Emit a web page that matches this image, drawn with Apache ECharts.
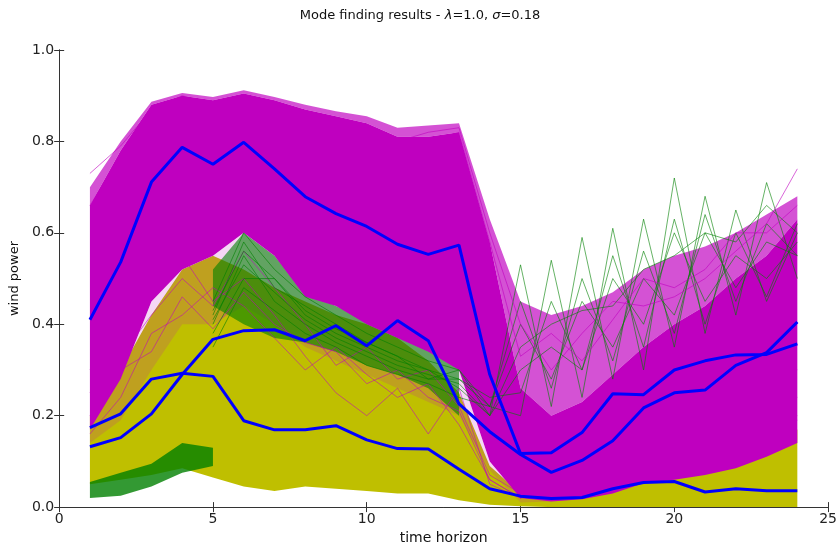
<!DOCTYPE html>
<html>
<head>
<meta charset="utf-8">
<script src="https://cdn.jsdelivr.net/npm/echarts@6/dist/echarts.min.js"></script>
<style>html,body{margin:0;padding:0;background:#fff}#c{width:840px;height:550px}</style>
</head>
<body>
<div id="c"></div>
<script>
// time steps
const hours = [1,2,3,4,5,6,7,8,9,10,11,12,13,14,15,16,17,18,19,20,21,22,23,24];
const xTicks = [0,5,10,15,20,25];
const yTicks = [0.0,0.2,0.4,0.6,0.8,1.0];

// cluster means (blue)
const meanMagenta = [0.41,0.536,0.711,0.787,0.75,0.798,0.74,0.679,0.642,0.614,0.575,0.553,0.573,0.29,0.117,0.119,0.163,0.248,0.246,0.30,0.32,0.333,0.334,0.357];
const meanGreen   = [0.132,0.152,0.204,0.29,0.367,0.386,0.388,0.364,0.397,0.353,0.408,0.364,0.226,0.165,0.115,0.076,0.102,0.145,0.217,0.25,0.256,0.31,0.338,0.405];
const meanYellow  = [0.174,0.204,0.28,0.293,0.286,0.189,0.169,0.169,0.178,0.147,0.128,0.127,0.083,0.04,0.024,0.019,0.021,0.04,0.054,0.056,0.033,0.04,0.036,0.036];

// yellow scenario envelope
const yellowLow  = [0.05,0.06,0.07,0.085,0.065,0.045,0.035,0.045,0.04,0.035,0.03,0.03,0.015,0.005,0.002,0,0,0,0,0,0,0,0,0];
const yellowHigh = [0.2,0.3,0.42,0.52,0.55,0.52,0.48,0.45,0.42,0.4,0.37,0.32,0.25,0.09,0.03,0.03,0.04,0.06,0.08,0.09,0.1,0.12,0.14,0.17];

// green scenario envelopes (visible parts)
const greenLowBL  = [0.02,0.025,0.045,0.075,0.09,null,null,null,null,null,null,null,null,null,null,null,null,null,null,null,null,null,null,null];
const greenHighBL = [0.055,0.075,0.095,0.14,0.13,null,null,null,null,null,null,null,null,null,null,null,null,null,null,null,null,null,null,null];
const greenLowMid  = [null,null,null,null,0.44,0.4,0.37,0.36,0.34,0.31,0.29,0.26,0.2,null,null,null,null,null,null,null,null,null,null,null];
const greenHighMid = [null,null,null,null,0.52,0.6,0.55,0.47,0.44,0.41,0.38,0.35,0.34,null,null,null,null,null,null,null,null,null,null,null];

// magenta scenario envelopes
const magFringeLow  = [0.14,0.19,0.3,0.4,0.4,0.44,0.4,0.35,0.32,0.29,0.26,0.23,0.2,0.08,0.01,0.012,0.017,0.03,0.052,0.06,0.07,0.085,0.11,0.14];
const magCoreLow    = [0.17,0.28,0.45,0.52,0.55,0.6,0.55,0.46,0.44,0.4,0.37,0.34,0.3,0.1,0.02,0.012,0.017,0.03,0.052,0.06,0.07,0.085,0.11,0.14];
const magCoreHigh   = [0.66,0.78,0.88,0.9,0.89,0.905,0.89,0.87,0.855,0.84,0.81,0.81,0.82,0.58,0.26,0.2,0.23,0.29,0.35,0.4,0.44,0.5,0.55,0.63];
const magFringeHigh = [0.7,0.8,0.887,0.906,0.897,0.912,0.897,0.88,0.866,0.855,0.83,0.835,0.84,0.63,0.45,0.42,0.44,0.47,0.52,0.55,0.57,0.6,0.64,0.68];

// individual magenta scenarios
const pinkA = [0.3,0.4,0.48,0.55,0.45,0.5,0.42,0.33,0.25,0.2,0.26,0.16,0.26,0.05,0.02,0.05,0.08,0.12,0.15,0.18,0.2,0.22,0.25,0.3];
const pinkB = [0.2,0.3,0.34,0.46,0.39,0.47,0.4,0.36,0.34,0.27,0.3,0.24,0.21,0.06,0.02,0.04,0.07,0.1,0.12,0.15,0.17,0.19,0.21,0.24];
const pinkC = [0.25,0.33,0.42,0.5,0.44,0.56,0.48,0.4,0.31,0.35,0.28,0.3,0.22,0.07,0.03,0.05,0.07,0.09,0.11,0.13,0.14,0.16,0.18,0.2];
const pinkD = [0.16,0.24,0.38,0.42,0.48,0.44,0.37,0.3,0.35,0.29,0.24,0.27,0.18,0.06,0.02,0.04,0.06,0.09,0.1,0.12,0.13,0.15,0.17,0.19];
const pinkE = [0.73,0.79,0.87,0.9,0.88,0.9,0.88,0.86,0.84,0.83,0.8,0.82,0.83,0.6,0.4,0.3,0.38,0.45,0.44,0.46,0.5,0.56,0.62,0.74];
const pinkF = [0.66,0.77,0.86,0.89,0.87,0.89,0.87,0.85,0.82,0.8,0.78,0.8,0.82,0.58,0.33,0.38,0.32,0.41,0.5,0.48,0.52,0.6,0.6,0.66];

// individual green scenarios
const greenA = [null,null,null,null,0.4,0.55,0.45,0.4,0.36,0.33,0.3,0.28,0.3,0.22,0.2,0.54,0.24,0.61,0.3,0.72,0.38,0.65,0.45,0.6];
const greenB = [null,null,null,null,0.38,0.5,0.5,0.42,0.38,0.35,0.32,0.3,0.26,0.2,0.53,0.22,0.59,0.28,0.63,0.35,0.68,0.42,0.71,0.5];
const greenC = [null,null,null,null,0.42,0.58,0.48,0.44,0.4,0.36,0.33,0.28,0.28,0.24,0.25,0.45,0.3,0.55,0.35,0.63,0.4,0.6,0.46,0.62];
const greenD = [null,null,null,null,0.35,0.48,0.43,0.38,0.35,0.31,0.29,0.27,0.24,0.22,0.45,0.26,0.5,0.32,0.56,0.38,0.64,0.45,0.62,0.55];
const greenE = [null,null,null,null,0.45,0.6,0.52,0.46,0.42,0.38,0.35,0.32,0.3,0.2,0.35,0.4,0.43,0.44,0.52,0.55,0.6,0.58,0.66,0.6];
const greenF = [null,null,null,null,0.41,0.53,0.47,0.41,0.37,0.34,0.31,0.29,0.27,0.2,0.3,0.35,0.3,0.5,0.4,0.6,0.45,0.55,0.5,0.58];
const greenG = [null,null,null,null,0.43,0.56,0.5,0.43,0.39,0.36,0.33,0.3,0.28,0.22,0.4,0.28,0.45,0.35,0.5,0.42,0.6,0.48,0.58,0.55];

const C_M = '#bf00bf', C_Y = '#bfbf00', C_G = '#008000', C_B = '#0000ff';

function band(lo, hi, color, opacity) {
  return {
    type: 'custom', silent: true, clip: true,
    data: [[1, 0]], encode: {x: 0, y: 1},
    renderItem: function (params, api) {
      const pts = [];
      for (let i = 0; i < hours.length; i++) if (hi[i] != null) pts.push(api.coord([hours[i], hi[i]]));
      for (let i = hours.length - 1; i >= 0; i--) if (lo[i] != null) pts.push(api.coord([hours[i], lo[i]]));
      return {type: 'polygon', shape: {points: pts}, style: {fill: color, opacity: opacity}};
    }
  };
}
function line(arr, color, width, opacity, z) {
  return {
    type: 'line', silent: true, symbol: 'none', showSymbol: false, z: z || 2,
    data: hours.map((h, i) => [h, arr[i]]),
    lineStyle: {color: color, width: width, opacity: opacity}
  };
}

const font = 'DejaVu Sans';
const chart = echarts.init(document.getElementById('c'), null, {renderer: 'canvas'});
const axisLine = {show: true, lineStyle: {color: '#333', width: 1}};
chart.setOption({
  animation: false,
  backgroundColor: '#fff',
  title: {
    text: 'Mode finding results - {i|λ}=1.0, {i|σ}=0.18',
    left: 'center', top: 4,
    textStyle: {fontFamily: font, fontSize: 13, fontWeight: 'normal', color: '#111',
      rich: {i: {fontFamily: font, fontStyle: 'italic', fontSize: 13, color: '#111'}}}
  },
  grid: {left: 59, right: 8, top: 50, bottom: 39},
  xAxis: [{
    type: 'value', min: 0, max: 25, interval: 5, position: 'bottom',
    name: 'time horizon', nameLocation: 'middle', nameGap: 20,
    nameTextStyle: {fontFamily: font, fontSize: 14, color: '#111'},
    axisLine: axisLine, axisTick: {show: true, inside: true, length: 5, lineStyle: {color: '#333'}},
    axisLabel: {fontFamily: font, fontSize: 14, color: '#222', margin: 5, formatter: v => xTicks.includes(v) ? String(v) : ''},
    splitLine: {show: false}
  }, {
    type: 'value', min: 0, max: 25, interval: 5, position: 'top',
    axisLine: axisLine, axisTick: {show: true, inside: true, length: 5, lineStyle: {color: '#333'}},
    axisLabel: {show: false}, splitLine: {show: false}
  }],
  yAxis: [{
    type: 'value', min: 0, max: 1, interval: 0.2, position: 'left',
    name: 'wind power', nameLocation: 'middle', nameGap: 37, nameRotate: 90,
    nameTextStyle: {fontFamily: font, fontSize: 13, color: '#111'},
    axisLine: axisLine, axisTick: {show: true, inside: true, length: 5, lineStyle: {color: '#333'}},
    axisLabel: {fontFamily: font, fontSize: 14, color: '#222', margin: 5, formatter: v => yTicks.some(t => Math.abs(t - v) < 1e-9) ? v.toFixed(1) : ''},
    splitLine: {show: false}
  }, {
    type: 'value', min: 0, max: 1, interval: 0.2, position: 'right',
    axisLine: axisLine, axisTick: {show: true, inside: true, length: 5, lineStyle: {color: '#333'}},
    axisLabel: {show: false}, splitLine: {show: false}
  }],
  series: [
    band(yellowLow, yellowHigh, C_Y, 1),
    band(greenLowBL, greenHighBL, C_G, 0.8),
    band(magFringeLow, magCoreLow, C_M, 0.16),
    line(pinkA, C_M, 1, 0.55),
    line(pinkB, C_M, 1, 0.55),
    line(pinkC, C_M, 1, 0.55),
    line(pinkD, C_M, 1, 0.55),
    band(greenLowMid, greenHighMid, C_G, 0.6),
    band(magCoreHigh, magFringeHigh, C_M, 0.68),
    line(greenA, C_G, 1, 0.6),
    line(greenB, C_G, 1, 0.6),
    line(greenC, C_G, 1, 0.6),
    line(greenD, C_G, 1, 0.6),
    line(greenE, C_G, 1, 0.6),
    line(greenF, C_G, 1, 0.6),
    line(greenG, C_G, 1, 0.6),
    line(pinkE, C_M, 1, 0.6),
    line(pinkF, C_M, 1, 0.6),
    band(magCoreLow, magCoreHigh, C_M, 1),
    line(meanMagenta, C_B, 3, 1, 10),
    line(meanGreen, C_B, 3, 1, 10),
    line(meanYellow, C_B, 3, 1, 10)
  ]
});
</script>
</body>
</html>
